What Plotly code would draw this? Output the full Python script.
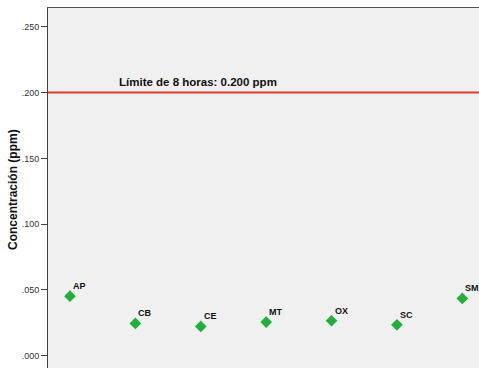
import plotly.graph_objects as go

sites = ["AP", "CB", "CE", "MT", "OX", "SC", "SM"]
conc = [0.0453, 0.0246, 0.0223, 0.0256, 0.0266, 0.0235, 0.0436]
limit_value = 0.200
limit_label = "Límite de 8 horas: 0.200 ppm"
tick_vals = [0.0, 0.05, 0.10, 0.15, 0.20, 0.25]
tick_text = [".000", ".050", ".100", ".150", ".200", ".250"]
y_title = "Concentración (ppm)"

FONT = "Liberation Sans, Arial, sans-serif"

fig = go.Figure()
fig.add_trace(go.Scatter(
    x=sites, y=conc, mode="markers",
    marker=dict(symbol="diamond", size=9, color="#1fb03a",
                line=dict(width=0)),
    hoverinfo="x+y", showlegend=False,
))

for s, v in zip(sites, conc):
    fig.add_annotation(x=s, y=v, text=f"<b>{s}</b>", showarrow=False,
                       xanchor="left", yanchor="bottom", xshift=1, yshift=3,
                       font=dict(family=FONT, size=9, color="#111"))

fig.add_shape(type="line", xref="paper", x0=0, x1=1, yref="y",
              y0=limit_value, y1=limit_value,
              line=dict(color="#e53935", width=2))
fig.add_annotation(xref="paper", x=(117 - 48) / 431, yref="y", y=limit_value,
                   text=f"<b>{limit_label}</b>", showarrow=False,
                   xanchor="left", yanchor="bottom", yshift=3,
                   font=dict(family=FONT, size=11.5, color="#111"))

fig.add_annotation(xref="paper", x=(13 - 48) / 431, yref="paper", y=(368 - 190) / 360,
                   text=f"<b>{y_title}</b>", showarrow=False, textangle=-90,
                   xanchor="center", yanchor="middle",
                   font=dict(family=FONT, size=12, color="#111"))

fig.update_layout(
    width=479, height=368,
    margin=dict(l=48, r=0, t=8, b=0),
    paper_bgcolor="white", plot_bgcolor="#f0f0f0",
    font=dict(family=FONT),
    xaxis=dict(type="category", range=[-0.336, 6.255], side="top",
               showline=True, linecolor="#555", linewidth=1,
               showticklabels=False, ticks="", showgrid=False, zeroline=False),
    yaxis=dict(range=[-0.0093, 0.2643], tickvals=tick_vals, ticktext=tick_text,
               ticks="outside", ticklen=6, tickcolor="#444", tickwidth=1,
               showline=True, linecolor="#444", linewidth=1,
               showgrid=False, zeroline=False,
               tickfont=dict(family=FONT, size=9, color="#333")),
)

fig.write_html(
    "out.html",
    config={"displayModeBar": False},
    post_script="document.body.style.margin='0';document.body.style.overflow='hidden';",
)
